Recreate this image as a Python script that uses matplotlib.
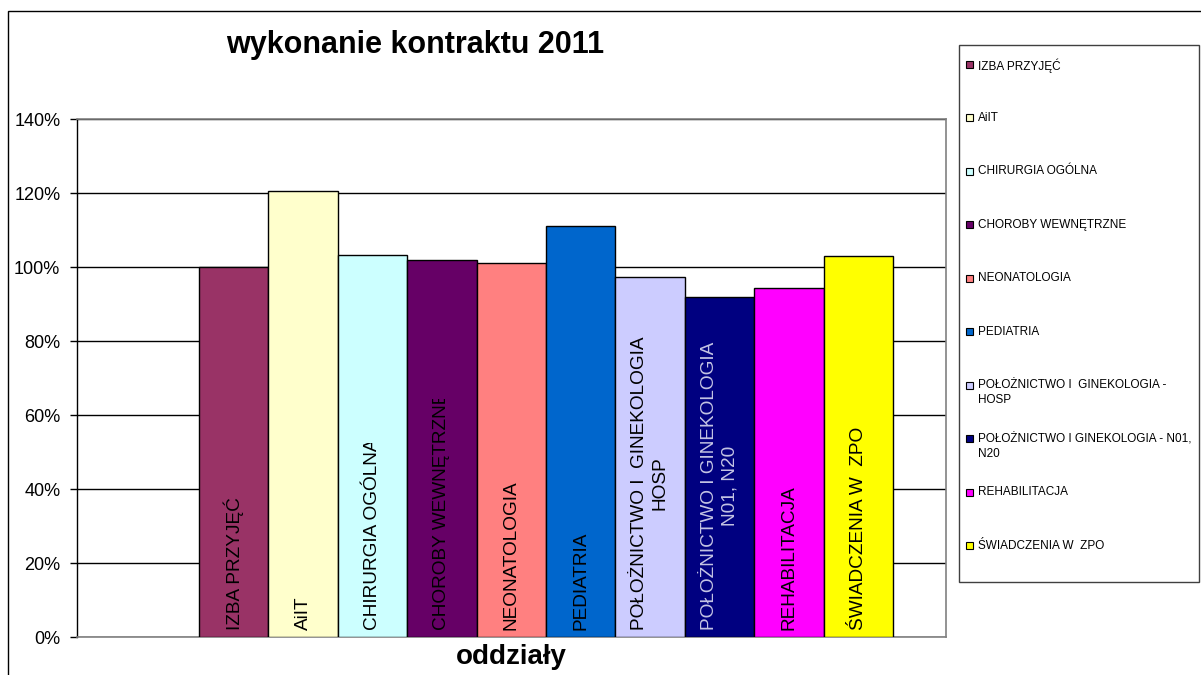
#!/usr/bin/env python3

import matplotlib

matplotlib.use("Agg")
import matplotlib.pyplot as plt
from matplotlib.patches import Rectangle
from matplotlib.ticker import FuncFormatter
from matplotlib.transforms import Bbox, TransformedBbox

plt.rcParams["font.family"] = ["Liberation Sans", "DejaVu Sans"]

# data
departments = [
    "IZBA PRZYJĘĆ",
    "AiIT",
    "CHIRURGIA OGÓLNA",
    "CHOROBY WEWNĘTRZNE",
    "NEONATOLOGIA",
    "PEDIATRIA",
    "POŁOŻNICTWO I  GINEKOLOGIA - HOSP",
    "POŁOŻNICTWO I GINEKOLOGIA - N01, N20",
    "REHABILITACJA",
    "ŚWIADCZENIA W  ZPO",
]
legend_labels = [
    "IZBA PRZYJĘĆ",
    "AiIT",
    "CHIRURGIA OGÓLNA",
    "CHOROBY WEWNĘTRZNE",
    "NEONATOLOGIA",
    "PEDIATRIA",
    "POŁOŻNICTWO I  GINEKOLOGIA -\nHOSP",
    "POŁOŻNICTWO I GINEKOLOGIA - N01,\nN20",
    "REHABILITACJA",
    "ŚWIADCZENIA W  ZPO",
]
bar_labels = [
    "IZBA PRZYJĘĆ",
    "AiIT",
    "CHIRURGIA OGÓLNA",
    "CHOROBY WEWNĘTRZNE",
    "NEONATOLOGIA",
    "PEDIATRIA",
    "POŁOŻNICTWO I  GINEKOLOGIA\nHOSP",
    "POŁOŻNICTWO I GINEKOLOGIA\nN01, N20",
    "REHABILITACJA",
    "ŚWIADCZENIA W  ZPO",
]
execution = [100.0, 120.6, 103.3, 102.0, 101.2, 111.1, 97.3, 91.8, 94.3, 103.0]
y_ticks = [0, 20, 40, 60, 80, 100, 120, 140]

colors = [
    "#993366", "#FFFFCC", "#CCFFFF", "#660066", "#FF8080",
    "#0066CC", "#CCCCFF", "#000080", "#FF00FF", "#FFFF00",
]
label_colors = ["black"] * 7 + ["#c4c4e4"] + ["black"] * 2
# where Excel cut the rotated labels (in % units), None = not cut
label_clip = [None, None, 52.4, 64.2, None, None, None, None, None, None]

W, H = 1201, 675
fig = plt.figure(figsize=(W / 100, H / 100), dpi=100)
ax = fig.add_axes([77 / W, 1 - 637 / H, (946 - 77) / W, (637 - 119) / H])

xs = list(range(len(execution)))
ax.bar(xs, execution, width=1.0, color=colors, edgecolor="black", linewidth=1.0, zorder=3)

for x, text, col, clip in zip(xs, bar_labels, label_colors, label_clip):
    t = ax.text(
        x, 1.9, text, rotation=90, ha="center", va="bottom",
        multialignment="center", fontsize=13.7, color=col, zorder=4,
        linespacing=1.25, clip_on=clip is not None,
    )
    if clip is not None:
        t.set_clip_box(TransformedBbox(Bbox([[x - 0.5, 0], [x + 0.5, clip]]), ax.transData))

ax.set_xlim(-2.258, 10.264)
ax.set_ylim(0, 140)
ax.set_yticks(y_ticks)
ax.yaxis.set_major_formatter(FuncFormatter(lambda v, _: f"{v:.0f}%"))
ax.tick_params(axis="y", direction="out", length=5, width=1, labelsize=13, pad=7)
ax.set_xticks([])
ax.yaxis.grid(True, color="black", linewidth=1.0, zorder=0)
ax.set_axisbelow(True)

for side in ("top", "right", "bottom"):
    ax.spines[side].set_color("#808080")
    ax.spines[side].set_linewidth(1.2)
ax.spines["left"].set_color("black")
ax.spines["left"].set_linewidth(1.0)

ax.set_xlabel("oddziały", fontsize=20, fontweight="bold", labelpad=5)
fig.text(415 / W, 1 - 45 / H, "wykonanie kontraktu 2011", ha="center", va="center",
         fontsize=22, fontweight="bold")

# chart area frame
fig.patches.append(Rectangle((8 / W, -0.1), 1.2, 1.1 - 11 / H, transform=fig.transFigure,
                             fill=False, edgecolor="black", linewidth=1.0))

# legend box, drawn by hand to keep Excel's entry layout
fig.patches.append(Rectangle((959 / W, 1 - 582 / H), (1199 - 959) / W, (582 - 45) / H,
                             transform=fig.transFigure, fill=False, edgecolor="#404040",
                             linewidth=1.0))
for i, (name, col) in enumerate(zip(legend_labels, colors)):
    yc = 64.3 + i * 53.5
    fig.patches.append(Rectangle((966 / W, 1 - (yc + 3.5) / H), 7 / W, 7 / H,
                                 transform=fig.transFigure, facecolor=col,
                                 edgecolor="black", linewidth=0.8))
    fig.text(978 / W, 1 - (yc - 6) / H, name, ha="left", va="top", fontsize=8.5,
             linespacing=1.35)

fig.savefig("out.png", dpi=100)
